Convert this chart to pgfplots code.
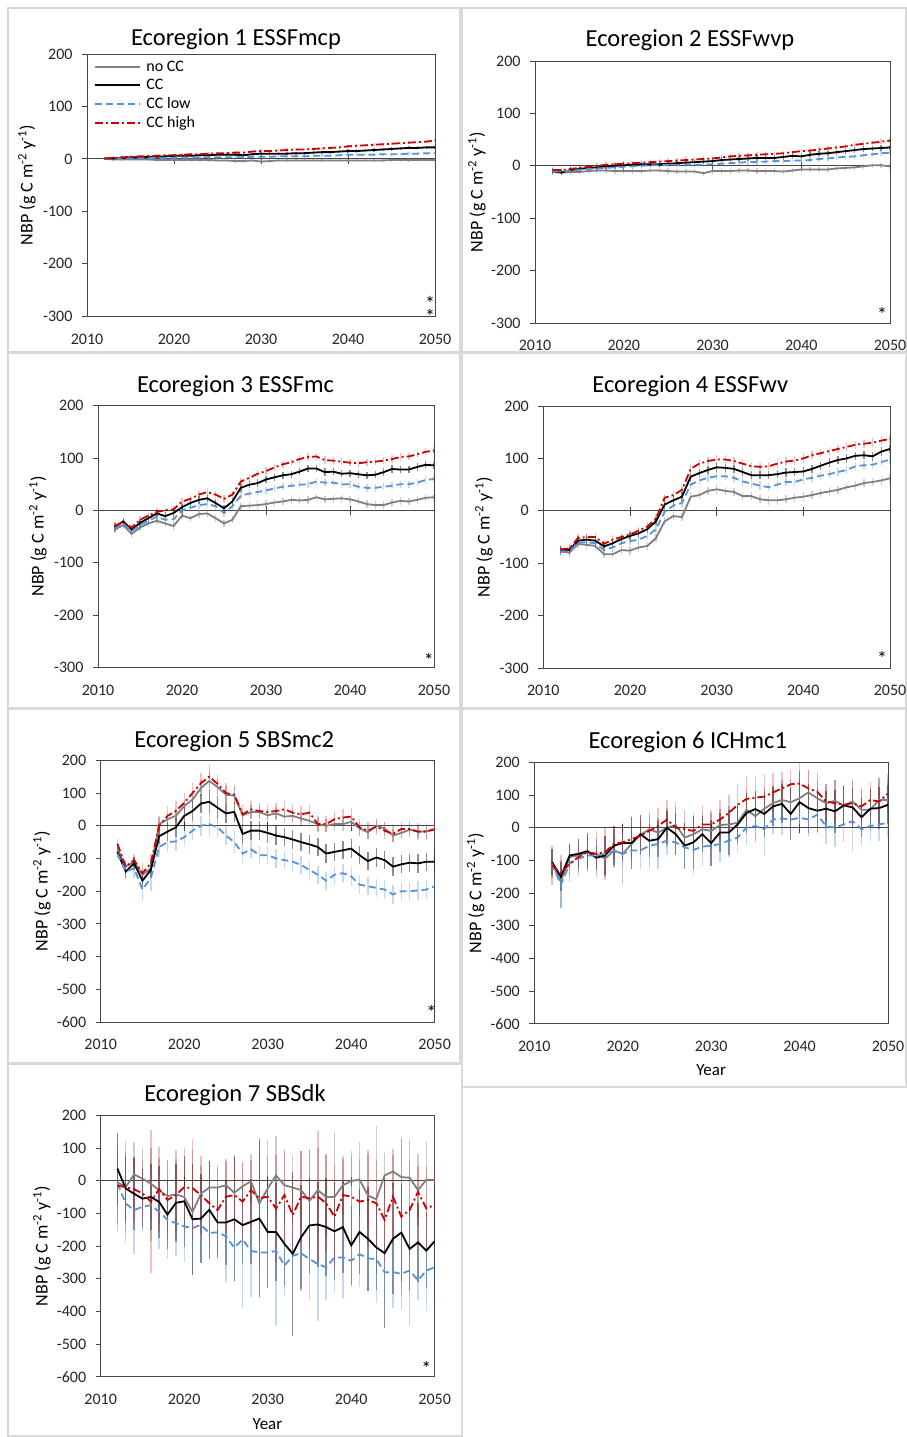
\documentclass[border=0pt]{standalone}
\usepackage{fontspec}
\setmainfont{Carlito}
\usepackage{pgfplots}
\pgfplotsset{compat=1.18}
\usepackage{pgfplotstable}

\definecolor{cgray}{RGB}{128,128,128}
\definecolor{cblue}{RGB}{86,146,220}
\definecolor{cred}{RGB}{204,0,0}
\definecolor{pframe}{RGB}{217,217,217}
\definecolor{axcol}{RGB}{70,70,70}

% ---------------- data ----------------
\pgfplotstableread{
yr n c l h
2012 0 0 0 1
2013 -1 1 1 2
2014 -1 2 1 3
2015 -1 3 1 4
2016 -1 3 1 5
2017 -1 4 2 5
2018 -2 4 2 6
2019 -2 5 2 7
2020 -2 6 2 7
2021 -2 6 2 8
2022 -2 6 2 9
2023 -2 7 3 9
2024 -2 7 3 10
2025 -3 8 3 11
2026 -3 8 3 11
2027 -4 8 3 12
2028 -4 7 3 12
2029 -3 9 4 14
2030 -5 10 4 15
2031 -4 10 4 15
2032 -3 10 5 16
2033 -3 10 5 17
2034 -3 11 5 18
2035 -3 11 5 18
2036 -3 12 6 19
2037 -3 13 6 20
2038 -3 13 6 21
2039 -3 14 7 22
2040 -3 15 8 24
2041 -3 15 8 25
2042 -3 16 8 26
2043 -3 17 8 27
2044 -3 18 9 28
2045 -2 19 9 29
2046 -2 20 9 30
2047 -2 21 10 31
2048 -2 21 10 32
2049 -2 22 11 33
2050 -2 22 11 35
}\tabA

\pgfplotstableread{
yr n c l h
2012 -12 -10 -10 -8
2013 -13 -13 -11 -8
2014 -12 -8 -9 -6
2015 -12 -6 -8 -4
2016 -10 -4 -6 -2
2017 -9 -3 -5 0
2018 -9 -1 -4 2
2019 -10 0 -3 3
2020 -10 1 -2 4
2021 -10 2 -1 5
2022 -10 3 0 6
2023 -9 3 1 7
2024 -9 3 1 8
2025 -10 4 2 9
2026 -11 5 2 10
2027 -11 6 2 11
2028 -11 7 2 12
2029 -14 8 2 13
2030 -10 9 3 14
2031 -10 11 4 16
2032 -10 12 5 18
2033 -9 13 6 19
2034 -9 14 7 20
2035 -10 15 7 21
2036 -10 15 8 22
2037 -10 15 9 23
2038 -11 17 9 24
2039 -9 19 10 26
2040 -7 18 10 28
2041 -7 21 11 29
2042 -7 23 13 31
2043 -7 24 14 33
2044 -5 26 16 35
2045 -4 28 17 37
2046 -3 30 18 40
2047 -1 32 20 42
2048 1 33 22 44
2049 1 34 24 46
2050 -1 35 25 48
}\tabB

\pgfplotstableread{
yr n c l h
2012 -37 -32 -35 -30
2013 -28 -21 -25 -22
2014 -45 -37 -40 -33
2015 -33 -24 -28 -18
2016 -25 -15 -20 -10
2017 -20 -6 -12 -3
2018 -25 -11 -18 0
2019 -30 -5 -17 2
2020 -10 6 0 17
2021 -15 14 5 22
2022 -7 20 10 30
2023 -6 23 12 35
2024 -15 14 8 30
2025 -25 4 -5 22
2026 -18 17 8 30
2027 8 43 28 55
2028 9 49 32 62
2029 10 52 35 70
2030 12 59 38 75
2031 15 63 42 82
2032 17 67 45 88
2033 20 69 47 92
2034 19 74 49 98
2035 20 80 50 102
2036 25 80 55 103
2037 21 73 53 96
2038 22 74 53 95
2039 23 70 50 93
2040 21 71 50 91
2041 17 69 45 90
2042 12 67 43 92
2043 10 68 43 93
2044 10 73 45 95
2045 15 79 47 98
2046 18 78 50 102
2047 17 78 50 103
2048 20 83 53 107
2049 24 87 58 112
2050 25 86 60 114
}\tabC

\pgfplotstableread{
yr n c l h
2012 -78 -75 -77 -73
2013 -80 -75 -78 -72
2014 -63 -57 -60 -52
2015 -65 -55 -60 -50
2016 -67 -57 -62 -50
2017 -83 -68 -75 -63
2018 -83 -62 -70 -55
2019 -75 -54 -62 -50
2020 -76 -48 -58 -45
2021 -70 -43 -55 -38
2022 -67 -35 -48 -30
2023 -52 -20 -35 -15
2024 -20 12 -2 25
2025 -10 20 10 30
2026 -12 27 15 40
2027 27 65 50 80
2028 30 72 58 90
2029 38 78 63 95
2030 41 83 66 98
2031 38 82 66 98
2032 36 80 63 95
2033 28 74 56 90
2034 28 68 52 85
2035 22 68 48 84
2036 20 68 45 85
2037 20 70 50 90
2038 22 73 55 94
2039 25 74 55 96
2040 27 75 60 100
2041 30 80 63 106
2042 34 86 67 110
2043 37 92 70 114
2044 40 97 74 118
2045 45 100 78 122
2046 48 105 85 126
2047 53 106 87 128
2048 55 104 88 130
2049 58 113 93 134
2050 62 118 98 137
}\tabD

\pgfplotstableread{
yr n c l h en ec el eh
2012 -70 -80 -85 -55 15 15 20 15
2013 -125 -140 -140 -125 15 20 25 20
2014 -110 -115 -130 -105 15 20 30 20
2015 -150 -168 -195 -145 20 25 35 30
2016 -130 -135 -160 -115 20 25 40 30
2017 5 -32 -65 0 20 25 30 30
2018 20 -18 -50 30 20 30 30 30
2019 30 -5 -48 45 20 30 30 30
2020 60 30 -35 70 20 30 25 30
2021 80 45 -15 100 25 30 30 30
2022 115 68 0 130 25 30 30 30
2023 137 73 5 150 30 35 35 35
2024 118 55 -5 128 25 35 30 30
2025 95 38 -30 100 25 30 30 30
2026 92 42 -50 95 25 30 35 30
2027 32 -25 -85 35 20 30 30 30
2028 42 -15 -72 50 20 28 28 25
2029 42 -15 -90 45 20 28 28 25
2030 32 -22 -90 42 20 30 28 25
2031 38 -30 -100 45 20 28 28 25
2032 28 -35 -105 50 20 28 28 25
2033 30 -42 -110 40 20 28 28 25
2034 22 -50 -120 35 20 28 28 25
2035 15 -57 -135 40 20 28 28 25
2036 5 -65 -150 5 20 28 28 25
2037 0 -85 -168 5 20 28 28 25
2038 5 -80 -150 20 20 28 28 25
2039 5 -75 -145 25 20 28 28 25
2040 12 -70 -155 28 20 28 28 25
2041 -8 -90 -180 -5 20 28 28 25
2042 -20 -108 -185 -15 20 28 28 25
2043 0 -97 -190 -3 20 28 28 25
2044 -8 -105 -195 -15 20 28 28 25
2045 -30 -125 -210 -25 20 28 28 25
2046 -22 -118 -200 -10 20 28 28 25
2047 -12 -113 -200 -10 20 28 28 25
2048 -18 -115 -198 -18 20 28 28 25
2049 -17 -110 -195 -18 20 28 28 25
2050 -12 -110 -185 -10 20 28 28 25
}\tabE

\pgfplotstableread{
yr n c l h en ec el eh
2012 -110 -105 -110 -115 45 40 45 60
2013 -165 -150 -175 -140 80 45 70 40
2014 -90 -85 -110 -110 40 35 40 55
2015 -85 -80 -95 -90 45 45 55 45
2016 -75 -72 -85 -75 50 55 45 60
2017 -80 -92 -85 -80 45 35 50 70
2018 -95 -85 -80 -75 65 60 45 75
2019 -70 -55 -72 -50 50 60 50 45
2020 -80 -47 -80 -45 95 55 40 55
2021 -50 -47 -70 -35 45 80 55 70
2022 -22 -20 -70 -25 45 60 55 60
2023 -5 -40 -55 -10 40 50 70 60
2024 -15 -35 -50 5 45 55 75 55
2025 0 0 -40 25 60 50 45 60
2026 8 -20 -45 0 55 65 40 80
2027 -30 -55 -60 -5 45 70 60 60
2028 -20 -45 -68 -10 55 80 75 55
2029 -5 -20 -58 10 50 55 60 60
2030 -10 -47 -55 10 55 70 55 45
2031 8 -15 -50 25 50 60 55 60
2032 10 -15 -40 45 55 70 50 55
2033 15 10 -30 70 60 60 45 65
2034 55 45 0 88 60 60 55 70
2035 35 57 5 92 75 55 50 65
2036 58 42 -5 95 65 70 80 70
2037 75 65 25 108 55 60 45 60
2038 85 73 28 120 60 60 50 50
2039 78 42 25 133 70 80 45 45
2040 90 78 30 135 55 95 50 70
2041 108 60 25 120 70 75 55 55
2042 90 52 40 110 60 65 60 60
2043 75 58 5 80 60 55 55 55
2044 82 50 0 75 65 65 60 70
2045 68 68 10 70 60 60 55 60
2046 80 62 20 75 70 60 95 70
2047 55 32 -5 65 60 60 50 55
2048 55 58 5 85 65 60 45 55
2049 85 60 10 80 70 65 50 70
2050 85 70 15 105 65 60 45 60
}\tabF

\pgfplotstableread{
yr n c l h en ec el eh
2012 -5 37 -8 -15 120 110 150 120
2013 -19 -24 -70 -20 110 100 120 140
2014 19 -40 -90 -26 100 110 135 100
2015 6 -55 -80 -39 95 90 80 100
2016 -9 -50 -75 -64 110 100 110 220
2017 -30 -65 -95 -26 100 110 115 130
2018 -47 -104 -120 -59 110 105 120 120
2019 -42 -68 -130 -44 135 120 100 110
2020 -50 -63 -140 -20 110 140 110 120
2021 -96 -118 -145 -23 190 170 100 150
2022 -40 -116 -135 -44 85 135 110 120
2023 -21 -89 -160 -69 80 150 75 130
2024 -21 -128 -158 -90 70 110 80 130
2025 -14 -128 -170 -49 80 130 140 110
2026 -37 -118 -205 -44 115 190 60 120
2027 -17 -136 -180 -64 75 120 210 120
2028 -2 -126 -215 -29 65 130 140 110
2029 -70 -116 -220 -54 200 240 140 140
2030 -24 -157 -220 -49 150 170 110 120
2031 16 -157 -215 -85 120 150 230 165
2032 -14 -193 -260 -44 105 130 90 140
2033 -21 -224 -230 -105 100 250 60 120
2034 -29 -173 -222 -49 120 160 115 140
2035 -62 -137 -240 -54 155 145 125 150
2036 -29 -134 -255 -49 130 130 175 200
2037 -50 -142 -265 -69 130 150 100 150
2038 -50 -155 -235 -110 200 150 105 160
2039 -14 -142 -235 -44 90 140 125 110
2040 -1 -198 -245 -49 75 120 80 140
2041 3 -157 -225 -64 115 130 100 130
2042 -45 -178 -238 -59 140 160 100 140
2043 -57 -204 -240 -69 225 130 135 130
2044 16 -222 -280 -120 70 230 95 130
2045 28 -178 -280 -49 50 170 110 145
2046 11 -159 -285 -110 120 150 110 240
2047 9 -209 -275 -90 120 130 170 150
2048 -29 -189 -305 -34 110 120 60 80
2049 3 -214 -275 -85 115 115 125 130
2050 3 -185 -265 -74 160 175 100 130
}\tabG

% ---------------- styles ----------------
\pgfplotsset{
  panel/.style={
    scale only axis,
    xmin=2010, xmax=2050,
    xtick={2010,2020,2030,2040,2050},
    xtick pos=bottom, ytick pos=left,
    xtick style={draw=none},
    ytick style={draw=axcol, line width=0.9pt},
    tick align=outside,
    major tick length=5pt,
    axis line style={draw=axcol, line width=0.9pt},
    tick label style={font=\fontsize{16}{18}\selectfont, text=black!85},
    /pgf/number format/assume math mode=true,
    x tick label style={/pgf/number format/1000 sep={}, yshift=-9pt},
    y tick label style={xshift=-6pt},
    every axis plot/.append style={mark=none},
  },
  top3/.style={ymin=-300, ymax=200, ytick={-300,-200,...,200}},
  top6/.style={ymin=-600, ymax=200, ytick={-600,-500,...,200}},
  snc/.style={draw=cgray, line width=1.8pt},
  sc/.style={draw=black, line width=1.8pt},
  slow/.style={draw=cblue, line width=1.8pt, dash pattern=on 7pt off 4pt},
  shigh/.style={draw=cred, line width=1.8pt, dash pattern=on 8pt off 3pt on 2pt off 3pt},
  ebx/.style={error bars/.cd, y dir=both, y explicit, error mark=none,
     error bar style={solid, line width=1.4pt, #1}},
  ebf/.style 2 args={error bars/.cd, y dir=both, y fixed=#2, error mark=none,
     error bar style={solid, line width=1.4pt, #1}},
}

\newcommand\zeroline{%
  \draw[axcol, line width=0.9pt] (axis cs:2010,0) -- (axis cs:2050,0);
  \pgfplotsinvokeforeach{2020,2030,2040}{%
    \draw[axcol, line width=0.9pt] ([yshift=-5pt]axis cs:##1,0) -- ([yshift=4pt]axis cs:##1,0);}%
}
\newcommand\barsF[2]{%
  \addplot[draw=none, forget plot, ebf={draw=cgray, draw opacity=0.4}{#2}] table[x=yr,y=n]{#1};
  \addplot[draw=none, forget plot, ebf={draw=black, draw opacity=0.45}{#2}] table[x=yr,y=c]{#1};
  \addplot[draw=none, forget plot, ebf={draw=cblue, draw opacity=0.35}{#2}] table[x=yr,y=l]{#1};
  \addplot[draw=none, forget plot, ebf={draw=cred, draw opacity=0.25}{#2}] table[x=yr,y=h]{#1};
}
\newcommand\barsX[1]{%
  \addplot[draw=none, forget plot, ebx={draw=cgray, draw opacity=0.4}] table[x=yr,y=n,y error=en]{#1};
  \addplot[draw=none, forget plot, ebx={draw=black, draw opacity=0.45}] table[x=yr,y=c,y error=ec]{#1};
  \addplot[draw=none, forget plot, ebx={draw=cblue, draw opacity=0.35}] table[x=yr,y=l,y error=el]{#1};
  \addplot[draw=none, forget plot, ebx={draw=cred, draw opacity=0.25}] table[x=yr,y=h,y error=eh]{#1};
}
\newcommand\lines[1]{%
  \addplot[snc] table[x=yr,y=n]{#1};
  \addplot[sc] table[x=yr,y=c]{#1};
  \addplot[slow] table[x=yr,y=l]{#1};
  \addplot[shigh] table[x=yr,y=h]{#1};
}
\newcommand\ylab{NBP (g C m\textsuperscript{-2} y\textsuperscript{-1})}
\newcommand\tfont{\fontsize{24.5}{28}\selectfont}
\newcommand\lfont{\fontsize{18}{20}\selectfont}
\newcommand\afont{\fontsize{16}{18}\selectfont}
\newcommand\sfont{\fontsize{20}{20}\selectfont}

\begin{document}
\begin{tikzpicture}
\fill[white] (0,0) rectangle (907pt,-1437pt);
\useasboundingbox (0,0) rectangle (907pt,-1437pt);

% panel frames
\begin{scope}[draw=pframe, line width=1.5pt]
\draw (8pt,-8pt) rectangle (460pt,-352pt);
\draw (462pt,-8pt) rectangle (906pt,-352pt);
\draw (8pt,-353pt) rectangle (460pt,-708pt);
\draw (462pt,-353pt) rectangle (906pt,-708pt);
\draw (8pt,-709pt) rectangle (460pt,-1063pt);
\draw (462pt,-709pt) rectangle (906pt,-1087pt);
\draw (8pt,-1064pt) rectangle (462pt,-1436pt);
\end{scope}

% ---------- Panel 1 ----------
\begin{axis}[panel, top3, at={(87pt,-316.3pt)}, anchor=south west, width=348pt, height=262.3pt,
  legend style={draw=none, fill=none, at={(axis description cs:0.02,0.98)}, anchor=north west,
    font=\afont, row sep=3.5pt, inner sep=0pt, nodes={inner sep=1.5pt},
    /tikz/every odd column/.append style={column sep=4pt}},
  legend cell align=left,
  legend image code/.code={\draw[#1] (0pt,0pt) -- (45pt,0pt);}]
\zeroline
\barsF{\tabA}{3}
\lines{\tabA}
\legend{no CC, CC, CC low, CC high}
\end{axis}
\node[font=\sfont, align=center, inner sep=0pt] at (430pt,-310pt) {*\\[-6.5pt]*};
\node[font=\tfont, anchor=base] at (236pt,-46pt) {Ecoregion 1 ESSFmcp};
\node[font=\lfont, rotate=90] at (27pt,-185pt) {\ylab};

% ---------- Panel 2 ----------
\begin{axis}[panel, top3, at={(535pt,-323pt)}, anchor=south west, width=355pt, height=262pt]
\zeroline
\barsF{\tabB}{5}
\lines{\tabB}
\node[font=\sfont] at (axis cs:2049.1,-284) {*};
\end{axis}
\node[font=\tfont, anchor=base] at (690pt,-46.7pt) {Ecoregion 2 ESSFwvp};
\node[font=\lfont, rotate=90] at (477pt,-192pt) {\ylab};

% ---------- Panel 3 ----------
\begin{axis}[panel, top3, at={(98pt,-667.3pt)}, anchor=south west, width=336pt, height=261.6pt]
\zeroline
\barsF{\tabC}{7}
\lines{\tabC}
\node[font=\sfont] at (axis cs:2049.4,-287) {*};
\end{axis}
\node[font=\tfont, anchor=base] at (235.5pt,-392pt) {Ecoregion 3 ESSFmc};
\node[font=\lfont, rotate=90] at (38pt,-536.5pt) {\ylab};

% ---------- Panel 4 ----------
\begin{axis}[panel, top3, at={(543.3pt,-668pt)}, anchor=south west, width=346.7pt, height=262pt]
\zeroline
\barsF{\tabD}{8}
\lines{\tabD}
\node[font=\sfont] at (axis cs:2049.1,-282) {*};
\end{axis}
\node[font=\tfont, anchor=base] at (690.3pt,-392.7pt) {Ecoregion 4 ESSFwv};
\node[font=\lfont, rotate=90] at (484pt,-537pt) {\ylab};

% ---------- Panel 5 ----------
\begin{axis}[panel, top6, at={(100.7pt,-1022pt)}, anchor=south west, width=334pt, height=261.7pt]
\zeroline
\barsX{\tabE}
\lines{\tabE}
\node[font=\sfont] at (axis cs:2049.6,-572) {*};
\end{axis}
\node[font=\tfont, anchor=base] at (234.3pt,-747pt) {Ecoregion 5 SBSmc2};
\node[font=\lfont, rotate=90] at (42pt,-891pt) {\ylab};

% ---------- Panel 6 ----------
\begin{axis}[panel, top6, at={(534.3pt,-1023.7pt)}, anchor=south west, width=353.7pt, height=261.4pt]
\zeroline
\barsX{\tabF}
\lines{\tabF}
\end{axis}
\node[font=\tfont, anchor=base] at (687.8pt,-748.7pt) {Ecoregion 6 ICHmc1};
\node[font=\lfont, rotate=90] at (475.7pt,-893pt) {\ylab};
\node[font=\fontsize{17}{20}\selectfont, anchor=base] at (711.2pt,-1075.7pt) {Year};

% ---------- Panel 7 ----------
\begin{axis}[panel, top6, at={(100.7pt,-1376.7pt)}, anchor=south west, width=334pt, height=261.4pt]
\zeroline
\barsX{\tabG}
\lines{\tabG}
\node[font=\sfont] at (axis cs:2049.0,-575) {*};
\end{axis}
\node[font=\tfont, anchor=base] at (235pt,-1101.3pt) {Ecoregion 7 SBSdk};
\node[font=\lfont, rotate=90] at (42pt,-1246pt) {\ylab};
\node[font=\fontsize{17}{20}\selectfont, anchor=base] at (267.5pt,-1429pt) {Year};

\end{tikzpicture}
\end{document}
